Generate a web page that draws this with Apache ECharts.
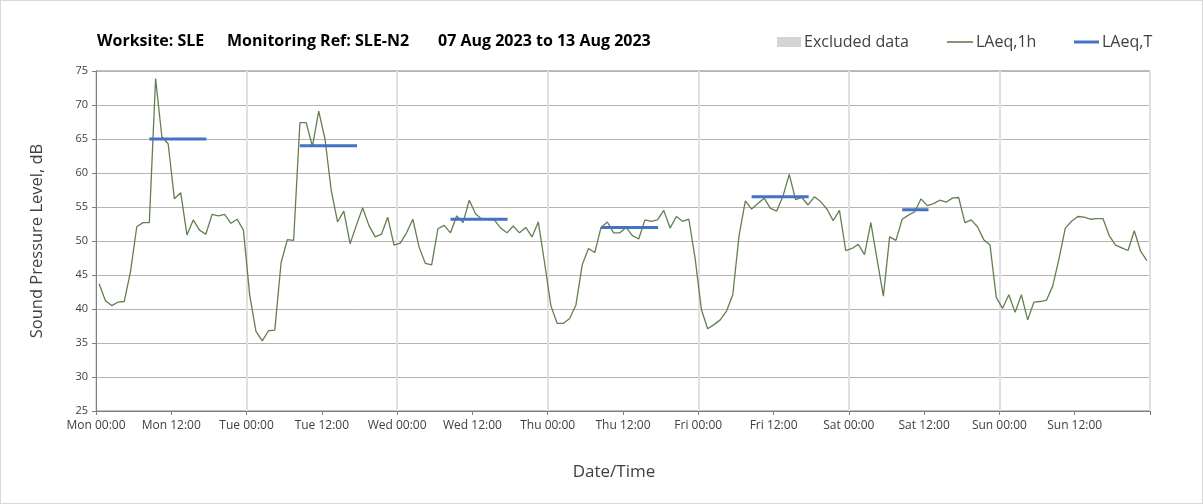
<!DOCTYPE html>
<html>
<head>
<meta charset="utf-8">
<script src="https://cdn.jsdelivr.net/npm/echarts@6/dist/echarts.min.js"></script>
<style>
  html, body { margin: 0; padding: 0; background: #fff; }
  #chart { width: 1201px; height: 502px; border: 1px solid #d9d9d9; }
</style>
</head>
<body>
<div id="chart"></div>
<script>
// Hourly LAeq,1h values, Mon 00:00 .. Sun 23:00 (plotted at the hour midpoint)
const laeq1h = [
  43.7, 41.2, 40.5, 41.0, 41.1, 45.5, 52.1, 52.7, 52.7, 73.9, 65.3, 64.3,
  56.2, 57.1, 50.9, 53.1, 51.6, 51.0, 53.9, 53.7, 53.9, 52.6, 53.2, 51.6,
  42.0, 36.7, 35.3, 36.8, 36.9, 46.8, 50.2, 50.1, 67.4, 67.4, 63.9, 69.1,
  65.0, 57.4, 52.8, 54.4, 49.6, 52.3, 54.9, 52.3, 50.6, 51.0, 53.5, 49.4,
  49.7, 51.2, 53.2, 49.1, 46.7, 46.5, 51.8, 52.3, 51.2, 53.7, 52.7, 56.0,
  54.0, 53.2, 53.2, 53.1, 51.9, 51.2, 52.2, 51.2, 52.0, 50.6, 52.8, 46.8,
  40.5, 37.9, 37.9, 38.6, 40.6, 46.5, 48.9, 48.3, 52.0, 52.8, 51.2, 51.2,
  52.0, 50.8, 50.3, 53.1, 52.9, 53.1, 54.5, 51.9, 53.6, 52.9, 53.2, 47.4,
  39.9, 37.1, 37.7, 38.4, 39.7, 42.1, 50.8, 55.9, 54.7, 55.5, 56.3, 54.8,
  54.4, 56.6, 59.8, 56.1, 56.4, 55.3, 56.5, 55.8, 54.7, 53.0, 54.5, 48.6,
  48.9, 49.5, 48.0, 52.7, 47.3, 41.9, 50.6, 50.1, 53.2, 53.8, 54.3, 56.2,
  55.2, 55.5, 56.0, 55.7, 56.3, 56.4, 52.7, 53.1, 52.1, 50.2, 49.4, 41.7,
  40.1, 42.1, 39.5, 42.1, 38.4, 41.0, 41.1, 41.3, 43.4, 47.4, 51.9, 52.9,
  53.6, 53.5, 53.2, 53.3, 53.3, 50.8, 49.4, 49.0, 48.6, 51.5, 48.5, 47.1
];
// LAeq,T daytime periods (hours from Mon 00:00)
const periodStart = [8.5, 32.5, 56.5, 80.5, 104.5, 128.5];
const periodEnd   = [17.6, 41.6, 65.6, 89.6, 113.6, 132.7];
const periodLevel = [65.0, 64.0, 53.2, 52.0, 56.5, 54.6];
// x tick labels every 12 h
const tickLabels = ['Mon 00:00','Mon 12:00','Tue 00:00','Tue 12:00','Wed 00:00','Wed 12:00',
  'Thu 00:00','Thu 12:00','Fri 00:00','Fri 12:00','Sat 00:00','Sat 12:00','Sun 00:00','Sun 12:00'];
const titleParts = ['Worksite: SLE', 'Monitoring Ref: SLE-N2', '07 Aug 2023 to 13 Aug 2023'];

const lineData = laeq1h.map((v, i) => [i + 0.5, v]);
const tData = [];
periodStart.forEach((s, k) => {
  tData.push([s, periodLevel[k]]);
  tData.push([periodEnd[k], periodLevel[k]]);
  tData.push([periodEnd[k], '-']);
});

const FONT = 'Open Sans';
const titleLeft = [91, 221, 432];
const titleStyle = { fontFamily: FONT, fontWeight: 'bold', fontSize: 16, color: '#000' };
const legendText = { fontFamily: FONT, fontSize: 16, color: '#404040', padding: [0, 0, 0, -2] };

const chart = echarts.init(document.getElementById('chart'), null, { renderer: 'canvas' });
chart.setOption({
  backgroundColor: '#fff',
  animation: false,
  title: titleParts.map((t, k) => ({ text: t, left: titleLeft[k], top: 27, textStyle: titleStyle })),
  legend: [
    { left: 776, top: 33, padding: 0, itemWidth: 24, itemHeight: 10, textStyle: legendText,
      data: [{ name: 'Excluded data', icon: 'rect' }] },
    { left: 946, top: 33, padding: 0, itemWidth: 26, itemHeight: 1.4, textStyle: legendText,
      data: [{ name: 'LAeq,1h', icon: 'rect', itemStyle: { color: '#4f6b3a' } }] },
    { left: 1073, top: 33, padding: 0, itemWidth: 25, itemHeight: 3, textStyle: legendText,
      data: [{ name: 'LAeq,T', icon: 'rect', itemStyle: { color: '#4472c4' } }] }
  ],
  grid: { left: 95, right: 52, top: 70, bottom: 92, show: true, borderColor: '#7f7f7f', borderWidth: 1 },
  xAxis: [{
    type: 'value', min: 0, max: 168, interval: 12,
    name: 'Date/Time', nameLocation: 'middle', nameGap: 53,
    nameTextStyle: { fontFamily: FONT, fontSize: 17, color: '#404040', padding: [0, 18, 0, 0] },
    axisLine: { show: true, lineStyle: { color: '#7f7f7f' } },
    axisTick: { show: true, length: 4, lineStyle: { color: '#7f7f7f' } },
    axisLabel: {
      fontFamily: FONT, fontSize: 12, color: '#404040', margin: 9,
      formatter: v => tickLabels[Math.round(v / 12)] || ''
    },
    splitLine: { show: false }
  }, {
    type: 'value', min: 0, max: 168, interval: 24, position: 'bottom',
    axisLine: { show: false }, axisTick: { show: false }, axisLabel: { show: false },
    splitLine: { show: true, lineStyle: { color: '#e0e0e0', width: 2 } }
  }],
  yAxis: {
    type: 'value', min: 25, max: 75, interval: 5,
    name: 'Sound Pressure Level, dB', nameLocation: 'middle', nameGap: 50,
    nameTextStyle: { fontFamily: FONT, fontSize: 16.5, color: '#404040' },
    axisLine: { show: true, lineStyle: { color: '#7f7f7f' } },
    axisTick: { show: true, length: 4, lineStyle: { color: '#7f7f7f' } },
    axisLabel: { fontFamily: FONT, fontSize: 11, color: '#404040', margin: 8 },
    splitLine: { show: true, lineStyle: { color: '#b4b4b4', width: 1 } }
  },
  series: [
    { name: 'Excluded data', type: 'bar', data: [], itemStyle: { color: '#d4d4d4' } },
    {
      name: 'LAeq,1h', type: 'line', data: lineData, symbol: 'none', z: 3,
      lineStyle: { color: '#637f4f', width: 1.3 }, itemStyle: { color: '#4f6b3a' }
    },
    {
      name: 'LAeq,T', type: 'line', data: tData, symbol: 'none', z: 4, connectNulls: false,
      lineStyle: { color: '#4472c4', width: 3 }, itemStyle: { color: '#4472c4' }
    }
  ]
});
</script>
</body>
</html>
